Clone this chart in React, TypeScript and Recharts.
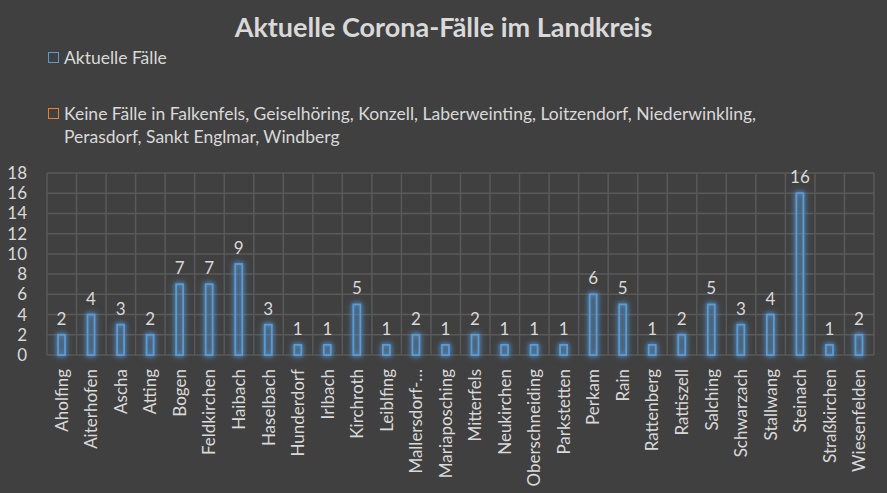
import React from "react";
import { BarChart, Bar, XAxis, YAxis, CartesianGrid, LabelList, Legend } from "recharts";

const towns: string[] = [
  "Aholfing", "Aiterhofen", "Ascha", "Atting", "Bogen", "Feldkirchen", "Haibach",
  "Haselbach", "Hunderdorf", "Irlbach", "Kirchroth", "Leiblfing", "Mallersdorf-Pfaffenberg",
  "Mariaposching", "Mitterfels", "Neukirchen", "Oberschneiding", "Parkstetten", "Perkam",
  "Rain", "Rattenberg", "Rattiszell", "Salching", "Schwarzach", "Stallwang", "Steinach",
  "Straßkirchen", "Wiesenfelden"
];

const cases: number[] = [
  2, 4, 3, 2, 7, 7, 9, 3, 1, 1, 5, 1, 2, 1, 2, 1, 1, 1, 6, 5, 1, 2, 5, 3, 4, 16, 1, 2
];

const noCaseTowns: string[] = [
  "Falkenfels", "Geiselhöring", "Konzell", "Laberweinting", "Loitzendorf",
  "Niederwinkling", "Perasdorf", "Sankt Englmar", "Windberg"
];

const yTicks: number[] = [0, 2, 4, 6, 8, 10, 12, 14, 16, 18];

const data = towns.map((t, i) => ({ town: t, faelle: cases[i] }));

const FONT = "Lato, 'Open Sans', sans-serif";
const TEXT = "#d9d9d9";
const BLUE = "#5b9bd5";
const ORANGE = "#ed7d31";

const shortLabel = (s: string) => (s.length > 15 ? s.slice(0, 12) + "…" : s);

const LegendBox: React.FC<{ color: string; text: string }> = ({ color, text }) => (
  <div style={{ display: "flex", alignItems: "flex-start" }}>
    <span
      style={{
        display: "inline-block",
        width: 9,
        height: 9,
        border: `1.5px solid ${color}`,
        marginTop: 6,
        marginRight: 5,
        flexShrink: 0
      }}
    />
    <span style={{ lineHeight: "23px" }}>{text}</span>
  </div>
);

const CustomLegend = () => (
  <div
    style={{
      position: "absolute",
      left: 48,
      top: 46,
      width: 740,
      fontFamily: FONT,
      fontSize: 17.5,
      color: TEXT
    }}
  >
    <LegendBox color={BLUE} text="Aktuelle Fälle" />
    <div style={{ height: 33 }} />
    <LegendBox color={ORANGE} text={"Keine Fälle in " + noCaseTowns.join(", ")} />
  </div>
);

const GlowBar = (props: any) => {
  const { x, y, width, height } = props;
  if (height <= 0) return null;
  return (
    <rect
      x={x}
      y={y}
      width={width}
      height={height}
      fill="none"
      stroke={BLUE}
      strokeWidth={1.8}
      style={{ filter: `drop-shadow(0 0 2px ${BLUE}) drop-shadow(0 0 3px rgba(91,155,213,0.6))` }}
    />
  );
};

const XTick = (props: any) => {
  const { x, y, payload } = props;
  return (
    <text
      x={x}
      y={y}
      transform={`rotate(-90 ${x} ${y})`}
      textAnchor="end"
      dy={6}
      dx={-6}
      fill={TEXT}
      fontSize={17}
      fontFamily={FONT}
    >
      {shortLabel(payload.value)}
    </text>
  );
};

export default function App() {
  return (
    <div
      style={{
        position: "absolute",
        left: 0,
        top: 0,
        width: 887,
        height: 493,
        background: "#404040",
        overflow: "hidden"
      }}
    >
      <div
        style={{
          position: "absolute",
          top: 10,
          width: 887,
          textAlign: "center",
          fontFamily: FONT,
          fontWeight: 700,
          fontSize: 27,
          color: TEXT
        }}
      >
        Aktuelle Corona-Fälle im Landkreis
      </div>
      <CustomLegend />
      <BarChart
        width={887}
        height={493}
        data={data}
        margin={{ top: 173, right: 13, left: 0, bottom: 0 }}
        barSize={7}
      >
        <CartesianGrid
          stroke="#595959"
          strokeWidth={1.5}
          verticalCoordinatesGenerator={({ offset }: any) =>
            towns.map((_, i) => offset.left + (i * offset.width) / towns.length).concat([
              offset.left + offset.width
            ])
          }
          horizontalCoordinatesGenerator={({ offset }: any) =>
            yTicks.map((t) => offset.top + offset.height - (t / 18) * offset.height)
          }
        />
        <XAxis
          dataKey="town"
          interval={0}
          height={138}
          axisLine={false}
          tickLine={false}
          tick={<XTick />}
        />
        <YAxis
          domain={[0, 18]}
          ticks={yTicks}
          interval={0}
          width={47}
          axisLine={false}
          tickLine={false}
          tickMargin={14}
          tick={{ fill: TEXT, fontSize: 17, fontFamily: FONT }}
        />
        <Legend content={() => null} />
        <Bar dataKey="faelle" name="Aktuelle Fälle" isAnimationActive={false} shape={<GlowBar />}>
          <LabelList
            dataKey="faelle"
            position="top"
            offset={10}
            fill={TEXT}
            fontSize={17}
            fontFamily={FONT}
          />
        </Bar>
      </BarChart>
    </div>
  );
}
